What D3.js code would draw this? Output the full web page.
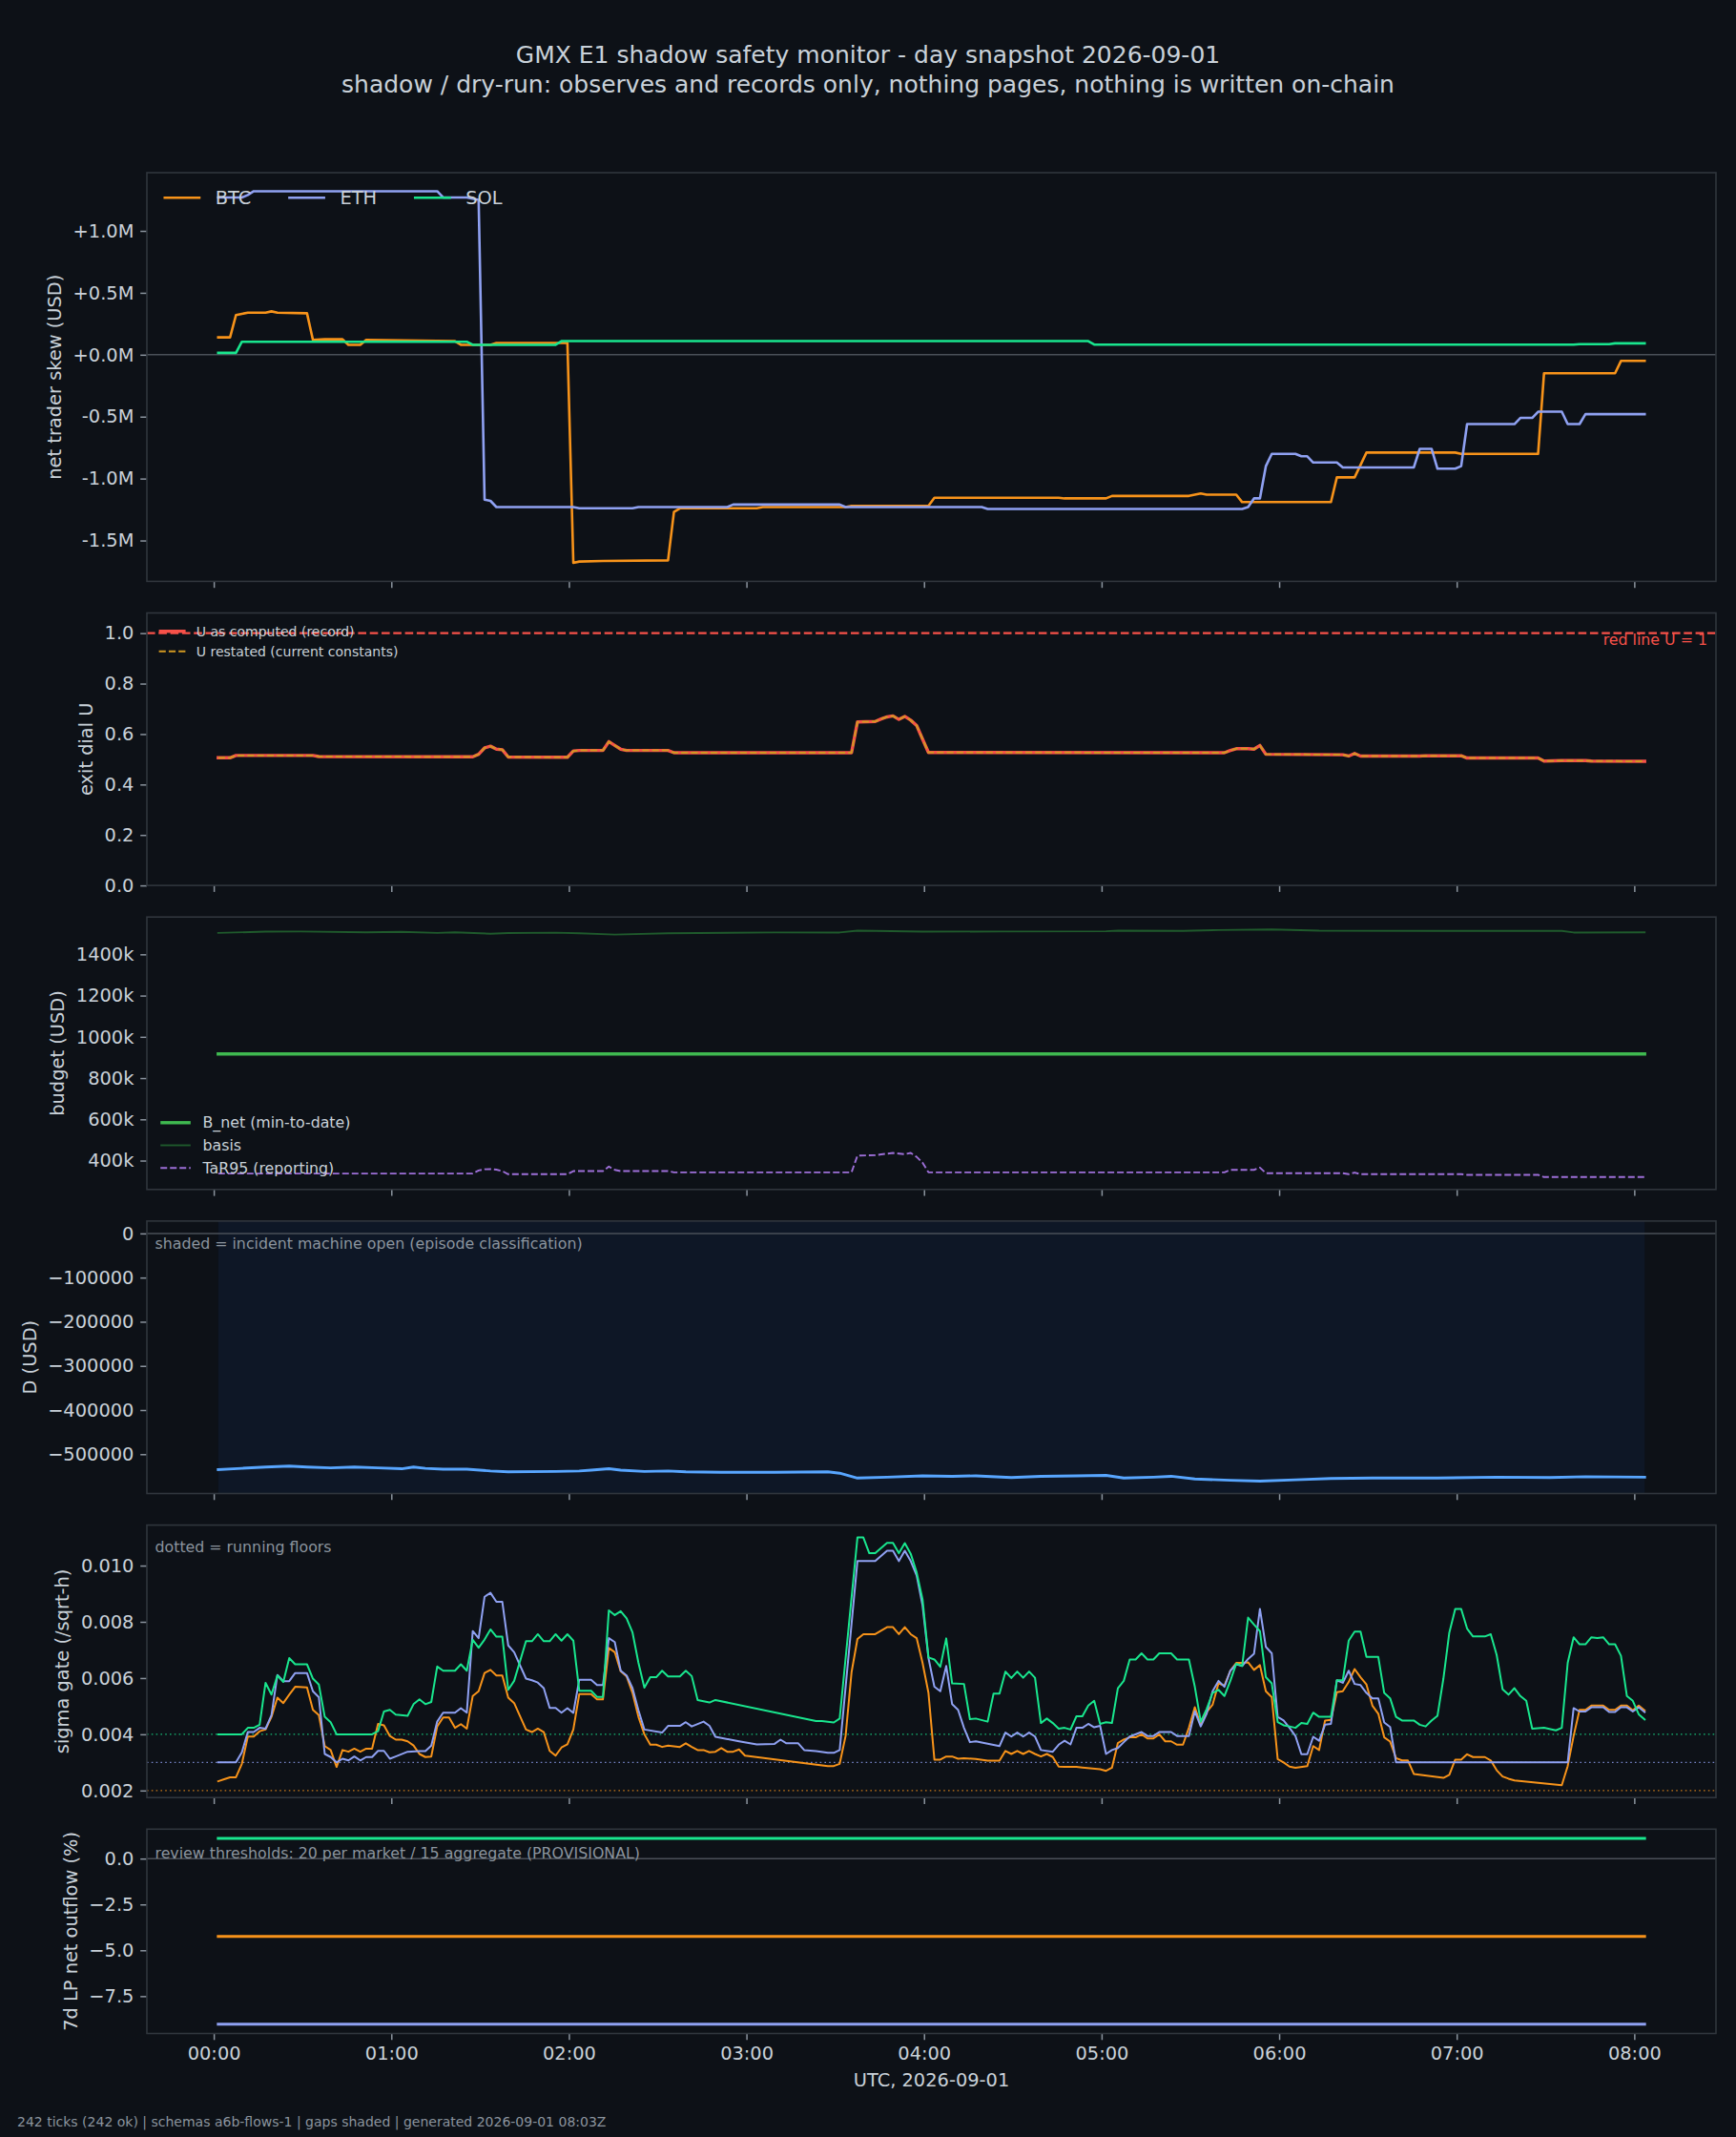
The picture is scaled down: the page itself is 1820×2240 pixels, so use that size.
<!DOCTYPE html>
<html>
<head>
<meta charset="utf-8">
<script src="https://cdn.jsdelivr.net/npm/d3@7"></script>
<style>
  body { margin: 0; background: #0d1117; }
  svg text { font-family: "DejaVu Sans", sans-serif; }
</style>
</head>
<body>
<svg id="chart" width="1820" height="2240"></svg>
<script>
// ---- tick clock: 242 ticks, 2 min apart, first one at 00:01:30 UTC ----
const T0 = Date.UTC(2026, 8, 1, 0, 1, 30);
const STEP_MS = 2 * 60 * 1000;
const N_TICKS = 242;
const tickTime = i => new Date(T0 + i * STEP_MS);

const markets = ["BTC", "ETH", "SOL"];

// net trader skew, USD millions
const skewBTC = [[0,0.14],[2,0.14],[3,0.32],[4,0.33],[5,0.34],[8,0.34],[9,0.35],[10,0.34],[15,0.335],[16,0.12],[18,0.125],[21,0.125],[22,0.08],[24,0.08],[25,0.12],[31,0.115],[40,0.11],[41,0.08],[46,0.08],[47,0.095],[59,0.095],[60,-1.68],[61,-1.67],[65,-1.665],[76,-1.66],[77,-1.27],[78,-1.24],[91,-1.24],[92,-1.23],[106,-1.23],[107,-1.22],[120,-1.22],[121,-1.155],[142,-1.155],[143,-1.16],[150,-1.16],[151,-1.14],[164,-1.14],[165,-1.13],[166,-1.12],[167,-1.13],[172,-1.13],[173,-1.19],[188,-1.19],[189,-0.99],[192,-0.99],[194,-0.79],[209,-0.79],[210,-0.80],[223,-0.80],[224,-0.15],[236,-0.15],[237,-0.05],[241,-0.05]];
const skewETH = [[0,1.27],[4,1.27],[5,1.29],[6,1.32],[37,1.32],[38,1.27],[42,1.27],[43,1.26],[44,1.25],[45,-1.17],[46,-1.18],[47,-1.23],[60,-1.23],[61,-1.24],[70,-1.24],[71,-1.23],[86,-1.23],[87,-1.21],[105,-1.21],[106,-1.23],[129,-1.23],[130,-1.245],[173,-1.245],[174,-1.23],[175,-1.16],[176,-1.16],[177,-0.9],[178,-0.8],[182,-0.8],[183,-0.82],[184,-0.82],[185,-0.87],[189,-0.87],[190,-0.91],[202,-0.91],[203,-0.76],[205,-0.76],[206,-0.92],[209,-0.92],[210,-0.9],[211,-0.56],[219,-0.56],[220,-0.51],[222,-0.51],[223,-0.46],[227,-0.46],[228,-0.56],[230,-0.56],[231,-0.48],[241,-0.48]];
const skewSOL = [[0,0.015],[3,0.015],[4,0.105],[42,0.105],[43,0.08],[57,0.08],[58,0.11],[147,0.11],[148,0.082],[229,0.082],[230,0.085],[235,0.085],[236,0.092],[241,0.092]];

// exit dial U (record and restated overlap on this day)
const uComputed = [[0,0.506],[2,0.506],[3,0.515],[16,0.515],[17,0.511],[43,0.510],[44,0.52],[45,0.545],[46,0.552],[47,0.54],[48,0.538],[49,0.509],[59,0.508],[60,0.533],[61,0.535],[65,0.535],[66,0.57],[67,0.555],[68,0.54],[69,0.535],[76,0.535],[77,0.526],[107,0.526],[108,0.648],[111,0.65],[112,0.66],[113,0.668],[114,0.672],[115,0.658],[116,0.67],[117,0.655],[118,0.634],[119,0.58],[120,0.527],[170,0.526],[171,0.535],[172,0.542],[174,0.542],[175,0.54],[176,0.555],[177,0.52],[190,0.518],[191,0.513],[192,0.523],[193,0.513],[203,0.513],[204,0.514],[210,0.514],[211,0.505],[223,0.505],[224,0.493],[227,0.495],[231,0.495],[232,0.493],[241,0.492]];
const uRestated = uComputed;
const U_REDLINE = 1;

// budget, USD thousands
const bNetK = [[0,917],[241,917]];
const basisK = [[0,1504],[8,1510],[14,1511],[25,1507],[31,1509],[37,1504],[40,1507],[46,1500],[49,1503],[57,1505],[61,1502],[67,1496],[76,1502],[94,1506],[105,1506],[108,1515],[111,1514],[119,1510],[132,1511],[150,1512],[152,1515],[163,1514],[169,1518],[178,1521],[186,1515],[206,1514],[227,1514],[229,1506],[241,1507]];
const tar95K = [[0,337],[43,337],[44,352],[45,358],[46,359],[47,356],[48,349],[49,334],[59,334],[60,349],[65,349],[66,371],[67,355],[68,349],[76,349],[77,343],[107,343],[108,424],[111,426],[112,430],[114,437],[116,431],[117,437],[118,418],[119,390],[120,343],[170,343],[171,355],[175,355],[176,366],[177,339],[190,339],[191,334],[192,342],[193,334],[210,334],[211,331],[223,331],[224,320],[241,320]];

// D, USD
const dUSD = [[0,-535000],[4,-532000],[8,-529000],[12,-527000],[15,-529000],[19,-531000],[23,-529000],[27,-531000],[31,-533000],[33,-529000],[35,-532000],[38,-534000],[42,-534000],[46,-538000],[49,-540000],[57,-539000],[61,-538000],[63,-536000],[66,-533000],[68,-536000],[72,-539000],[76,-538000],[79,-540000],[85,-541000],[94,-541000],[103,-540000],[105,-543000],[108,-554000],[113,-552000],[119,-549000],[124,-550000],[128,-549000],[134,-553000],[139,-550000],[145,-549000],[150,-548000],[153,-554000],[158,-552000],[161,-550000],[165,-556000],[171,-559000],[176,-561000],[182,-558000],[188,-555000],[195,-554000],[206,-554000],[216,-552000],[225,-553000],[231,-551000],[241,-552000]];
const incidentOpen = [0, 241]; // tick range the incident machine was open

// sigma gate, in units of 1e-3 /sqrt-h
const sigmaBTC = [[0,2.33],[1,2.40],[2,2.47],[3,2.47],[4,2.95],[5,3.92],[6,3.92],[7,4.11],[8,4.17],[9,4.62],[10,5.3],[11,5.11],[12,5.41],[13,5.69],[15,5.67],[16,4.87],[17,4.68],[18,3.58],[19,3.44],[20,2.84],[21,3.44],[22,3.38],[23,3.49],[24,3.38],[25,3.49],[26,3.49],[27,4.37],[28,4.32],[29,3.94],[30,3.81],[31,3.81],[32,3.75],[33,3.6],[34,3.3],[35,3.19],[36,3.21],[37,4.28],[38,4.6],[39,4.6],[40,4.23],[41,4.36],[42,4.2],[43,5.36],[44,5.53],[45,6.18],[46,6.29],[47,6.09],[48,6.09],[49,5.3],[50,5.11],[52,4.17],[53,4.08],[54,4.2],[55,4.08],[56,3.41],[57,3.24],[58,3.53],[59,3.64],[60,4.17],[61,5.43],[63,5.43],[64,5.24],[65,5.24],[66,7.07],[67,6.92],[68,6.24],[69,6.06],[70,5.47],[71,4.62],[72,4.0],[73,3.63],[74,3.63],[75,3.55],[76,3.6],[78,3.55],[79,3.68],[80,3.55],[81,3.44],[82,3.44],[83,3.36],[84,3.38],[85,3.51],[86,3.38],[87,3.38],[88,3.46],[89,3.24],[103,2.87],[104,2.87],[105,2.95],[106,3.94],[107,6.2],[108,7.39],[109,7.56],[111,7.56],[113,7.81],[114,7.81],[115,7.56],[116,7.81],[117,7.56],[118,7.42],[119,6.54],[120,5.47],[121,3.1],[122,3.1],[123,3.21],[124,3.21],[125,3.13],[126,3.15],[128,3.12],[130,3.06],[132,3.06],[133,3.41],[134,3.3],[135,3.41],[136,3.3],[137,3.41],[138,3.3],[139,3.21],[140,3.3],[141,3.19],[142,2.85],[143,2.84],[145,2.84],[146,2.82],[149,2.76],[150,2.7],[151,2.81],[152,3.69],[153,3.81],[154,3.89],[155,3.89],[156,4.0],[157,3.85],[158,3.85],[159,4.0],[160,3.75],[161,3.75],[162,3.63],[163,3.63],[164,4.23],[165,4.96],[166,4.34],[167,4.79],[168,5.05],[169,5.81],[170,5.73],[171,6.26],[172,6.54],[173,6.54],[174,6.56],[175,6.29],[176,6.46],[177,5.53],[178,5.32],[179,3.12],[180,3.0],[181,2.85],[182,2.81],[184,2.87],[185,3.58],[186,3.44],[187,4.49],[188,4.51],[189,5.5],[190,5.53],[191,5.86],[192,6.32],[193,6.03],[194,5.77],[195,5.02],[196,4.73],[197,3.89],[198,3.74],[199,3.15],[200,3.07],[201,3.07],[202,2.59],[207,2.45],[208,2.56],[209,3.1],[210,3.1],[211,3.29],[212,3.19],[214,3.19],[215,3.07],[216,2.72],[217,2.5],[218,2.42],[219,2.36],[227,2.19],[228,2.87],[229,3.94],[230,4.87],[231,4.87],[232,5.02],[234,5.02],[235,4.87],[236,4.87],[237,5.02],[238,5.02],[239,4.85],[240,5.02],[241,4.85]];
const sigmaETH = [[0,3.0],[3,3.0],[4,3.36],[5,4.08],[6,4.08],[7,4.23],[8,4.2],[9,4.68],[10,6.11],[11,5.89],[12,5.89],[13,6.18],[15,6.18],[16,5.53],[17,5.32],[18,3.3],[19,3.19],[20,3.0],[21,3.13],[22,3.07],[23,3.21],[24,3.07],[25,3.19],[26,3.19],[27,3.41],[28,3.41],[29,3.13],[30,3.21],[32,3.38],[34,3.40],[35,3.40],[36,3.6],[37,4.45],[38,4.77],[40,4.77],[41,4.93],[42,4.77],[43,7.67],[44,7.42],[45,8.89],[46,9.03],[47,8.71],[48,8.71],[49,7.16],[50,6.92],[52,5.98],[53,5.92],[54,5.84],[55,5.64],[56,4.94],[57,4.94],[58,4.77],[59,4.93],[60,4.76],[61,5.94],[63,5.94],[64,5.75],[65,5.75],[66,7.42],[67,7.28],[68,6.26],[69,6.09],[70,5.64],[71,4.85],[72,4.17],[75,4.06],[76,4.3],[78,4.3],[79,4.43],[80,4.28],[82,4.45],[83,4.3],[84,3.91],[88,3.75],[91,3.64],[94,3.66],[95,3.81],[96,3.68],[98,3.68],[99,3.44],[101,3.4],[103,3.34],[104,3.34],[105,3.44],[108,10.16],[111,10.16],[113,10.53],[114,10.53],[115,10.16],[116,10.53],[117,10.16],[118,9.65],[119,8.58],[120,6.71],[121,5.69],[122,5.53],[123,6.43],[124,5.07],[125,4.87],[126,4.23],[127,3.72],[128,3.75],[132,3.58],[133,4.06],[134,3.92],[135,4.06],[136,3.92],[137,4.06],[138,3.92],[139,3.44],[141,3.38],[142,3.63],[143,3.77],[144,3.64],[145,4.23],[146,4.23],[147,4.37],[148,4.25],[149,4.3],[150,3.3],[151,3.44],[152,3.51],[153,3.72],[154,3.92],[156,4.08],[157,3.94],[158,3.94],[159,4.08],[161,4.08],[162,3.94],[164,3.94],[165,4.82],[166,4.28],[167,4.73],[168,5.53],[169,5.9],[170,5.69],[171,6.26],[172,6.49],[173,6.43],[174,6.68],[175,6.86],[176,8.46],[177,7.11],[178,6.88],[179,4.62],[180,4.49],[181,4.23],[182,3.94],[183,3.29],[184,3.29],[185,3.91],[186,3.77],[187,4.34],[188,4.37],[189,5.92],[190,5.83],[191,6.26],[192,5.79],[193,5.75],[194,5.47],[195,5.28],[196,5.28],[197,4.42],[198,4.26],[199,3.0],[228,3.0],[229,4.93],[230,4.81],[231,4.81],[232,4.96],[234,4.96],[235,4.79],[236,4.79],[237,4.96],[238,4.96],[239,4.81],[240,4.96],[241,4.79]];
const sigmaSOL = [[0,4.0],[4,4.0],[5,4.23],[6,4.23],[7,4.34],[8,5.83],[9,5.41],[10,6.09],[11,5.86],[12,6.71],[13,6.49],[15,6.49],[16,5.98],[17,5.77],[18,4.62],[19,4.43],[20,4.0],[26,4.0],[27,4.11],[28,4.81],[29,4.87],[30,4.70],[32,4.66],[33,5.07],[34,5.24],[35,5.07],[36,5.15],[37,6.41],[38,6.26],[40,6.26],[41,6.49],[42,6.26],[43,7.36],[44,7.08],[45,7.37],[46,7.73],[47,7.47],[48,7.47],[49,5.58],[50,5.90],[52,7.31],[53,7.31],[54,7.56],[55,7.31],[56,7.31],[57,7.56],[58,7.33],[59,7.56],[60,7.33],[61,5.55],[63,5.55],[64,5.33],[65,5.33],[66,8.41],[67,8.24],[68,8.38],[69,8.12],[70,7.62],[71,6.54],[72,5.66],[73,6.03],[74,6.03],[75,6.26],[76,6.06],[78,6.06],[79,6.26],[80,6.07],[81,5.22],[83,5.13],[84,5.22],[101,4.47],[102,4.47],[104,4.42],[105,4.56],[108,11.0],[109,11.0],[110,10.44],[111,10.44],[113,10.81],[114,10.81],[115,10.44],[116,10.8],[117,10.42],[118,9.76],[119,8.8],[120,6.73],[121,6.66],[122,6.4],[123,7.41],[124,5.81],[126,5.79],[127,4.54],[128,4.56],[130,4.45],[131,5.45],[132,5.45],[133,6.23],[134,6.0],[135,6.23],[136,6.01],[137,6.23],[138,6.01],[139,4.40],[140,4.56],[141,4.40],[142,4.2],[143,4.23],[144,4.17],[145,4.64],[146,4.64],[147,5.02],[148,5.19],[149,4.37],[150,4.43],[151,4.4],[152,5.64],[153,5.90],[154,6.66],[155,6.66],[156,6.88],[157,6.66],[158,6.66],[159,6.88],[161,6.88],[162,6.66],[164,6.66],[165,5.69],[166,4.45],[167,4.9],[168,5.47],[169,5.58],[170,5.36],[171,5.90],[172,6.51],[173,6.43],[174,8.15],[175,7.9],[176,7.67],[177,6.03],[178,5.81],[179,4.43],[180,4.32],[181,4.28],[182,4.23],[183,4.4],[184,4.37],[185,4.77],[186,4.62],[188,4.62],[189,5.92],[190,5.92],[191,7.33],[192,7.65],[193,7.65],[194,6.75],[196,6.75],[197,5.47],[198,5.28],[199,4.62],[200,4.49],[202,4.49],[203,4.34],[204,4.28],[205,4.49],[206,4.66],[207,5.98],[208,7.62],[209,8.46],[210,8.46],[211,7.76],[212,7.48],[214,7.48],[215,7.56],[216,6.82],[217,5.6],[218,5.41],[219,5.64],[220,5.36],[221,5.19],[222,4.2],[224,4.23],[226,4.14],[227,4.23],[228,6.54],[229,7.45],[230,7.2],[231,7.2],[232,7.45],[233,7.42],[234,7.45],[235,7.2],[236,7.2],[237,6.79],[238,5.36],[239,5.19],[240,4.71],[241,4.53]];
const sigmaFloors = [0.002, 0.003, 0.004]; // BTC, ETH, SOL running floors

// 7d LP net outflow, % (flat over the day)
const lpOutflowPct = [-4.24, -9.03, 1.1]; // BTC, ETH, SOL

// y tick values per panel
const skewTicks = [-1.5, -1.0, -0.5, 0, 0.5, 1.0];
const uTicks = [0, 0.2, 0.4, 0.6, 0.8, 1.0];
const budgetTicks = [400, 600, 800, 1000, 1200, 1400];
const dTicks = [0, -100000, -200000, -300000, -400000, -500000];
const sigmaTicks = [0.002, 0.004, 0.006, 0.008, 0.010];
const lpTicks = [0, -2.5, -5.0, -7.5];

// ---- styling ----
const BG = "#0d1117", SPINE = "#30363d", TICK = "#8b949e", TXT = "#c9d1d9", MUTED = "#8b949e", ZERO = "#4a5058";
const marketColor = { BTC: "#f7931a", ETH: "#8fa1f2", SOL: "#19e68e" };
const FS = 19.4, FS_SMALL = 15.8, FS_TINY = 14;

const svg = d3.select("#chart");
svg.append("rect").attr("width", 1820).attr("height", 2240).attr("fill", BG);

const X0 = 154, X1 = 1799;
const unit = 285.6, gap = 33.1;
const ratios = [1.5, 1, 1, 1, 1, 0.75];
let cursor = 181;
const panels = ratios.map(r => {
  const p = { top: cursor, h: r * unit };
  cursor += r * unit + gap;
  return p;
});

function padExtent(vals, frac = 0.05) {
  const [a, b] = d3.extent(vals);
  const p = (b - a) * frac;
  return [a - p, b + p];
}

const tFirst = tickTime(0), tLast = tickTime(N_TICKS - 1);
const xPad = (tLast - tFirst) * 0.05;
const x = d3.scaleTime()
  .domain([new Date(+tFirst - xPad), new Date(+tLast + xPad)])
  .range([X0, X1]);

function makePanel(idx, yDomain, yTicks, yFmt, label, showX) {
  const p = panels[idx];
  const y = d3.scaleLinear().domain(yDomain).range([p.top + p.h, p.top]);
  const g = svg.append("g");

  svg.append("clipPath").attr("id", "clip" + idx)
    .append("rect").attr("x", X0).attr("y", p.top).attr("width", X1 - X0).attr("height", p.h);
  const plot = g.append("g").attr("clip-path", `url(#clip${idx})`);

  const ya = g.append("g").attr("transform", `translate(${X0},0)`)
    .call(d3.axisLeft(y).tickValues(yTicks).tickFormat(yFmt).tickSize(6.8).tickPadding(6.8));
  const xa = g.append("g").attr("transform", `translate(0,${p.top + p.h})`)
    .call(d3.axisBottom(x).ticks(d3.utcHour.every(1))
      .tickFormat(showX ? d3.utcFormat("%H:%M") : () => "")
      .tickSize(6.8).tickPadding(6.8));
  [ya, xa].forEach(a => {
    a.select(".domain").remove();
    a.selectAll("line").attr("stroke", TICK).attr("stroke-width", 1.5);
    a.selectAll("text").attr("fill", TXT).attr("font-size", FS)
      .attr("font-family", "DejaVu Sans");
  });

  g.append("rect").attr("x", X0).attr("y", p.top).attr("width", X1 - X0).attr("height", p.h)
    .attr("fill", "none").attr("stroke", SPINE).attr("stroke-width", 1.6);

  const minX = X0 + d3.min(ya.selectAll("text").nodes(), n => n.getBBox().x);
  g.append("text")
    .attr("transform", `translate(${minX - 12.4},${p.top + p.h / 2}) rotate(-90)`)
    .attr("text-anchor", "middle").attr("fill", TXT).attr("font-size", FS)
    .text(label);

  return { y, plot, g, p };
}

const line = y => d3.line().x(d => x(tickTime(d[0]))).y(d => y(d[1]));

function drawLine(panel, pts, color, width, dash) {
  panel.plot.append("path").datum(pts)
    .attr("fill", "none").attr("stroke", color).attr("stroke-width", width)
    .attr("stroke-linejoin", "round").attr("stroke-linecap", dash ? "butt" : "square")
    .attr("stroke-dasharray", dash || null)
    .attr("d", line(panel.y));
}

function hLine(panel, v, color, width, dash, opacity) {
  panel.plot.append("line")
    .attr("x1", X0).attr("x2", X1).attr("y1", panel.y(v)).attr("y2", panel.y(v))
    .attr("stroke", color).attr("stroke-width", width)
    .attr("stroke-dasharray", dash || null).attr("opacity", opacity || 1);
}

function note(panel, text, dy) {
  panel.g.append("text").attr("x", X0 + 8.5).attr("y", panel.p.top + dy)
    .attr("fill", MUTED).attr("font-size", FS_SMALL).text(text);
}

// vertical legend; entries {label, color, width, dash}
function legendRows(g, x0, y0, rowGap, fs, entries) {
  entries.forEach((e, k) => {
    const yc = y0 + k * rowGap;
    g.append("line").attr("x1", x0).attr("x2", x0 + 2 * fs).attr("y1", yc).attr("y2", yc)
      .attr("stroke", e.color).attr("stroke-width", e.width).attr("stroke-dasharray", e.dash || null);
    g.append("text").attr("x", x0 + 2.8 * fs).attr("y", yc).attr("dy", "0.35em")
      .attr("fill", TXT).attr("font-size", fs).text(e.label);
  });
}

// ---- title / footer ----
svg.append("text").attr("x", 910).attr("y", 66).attr("text-anchor", "middle")
  .attr("fill", TXT).attr("font-size", 25)
  .text("GMX E1 shadow safety monitor - day snapshot 2026-09-01");
svg.append("text").attr("x", 910).attr("y", 97).attr("text-anchor", "middle")
  .attr("fill", TXT).attr("font-size", 25)
  .text("shadow / dry-run: observes and records only, nothing pages, nothing is written on-chain");

// ---- panel 1: net trader skew ----
const skewSeries = [skewBTC, skewETH, skewSOL];
const p1 = makePanel(0,
  padExtent(skewSeries.flat().map(d => d[1])), skewTicks,
  v => (v >= 0 ? "+" : "-") + Math.abs(v).toFixed(1) + "M",
  "net trader skew (USD)", false);
hLine(p1, 0, ZERO, 1.5);
skewSeries.forEach((s, k) => drawLine(p1, s, marketColor[markets[k]], 2.6));
{
  let lx = X0 + 0.9 * FS;
  const ly = 207.3;
  markets.forEach(m => {
    p1.g.append("line").attr("x1", lx).attr("x2", lx + 2 * FS).attr("y1", ly).attr("y2", ly)
      .attr("stroke", marketColor[m]).attr("stroke-width", 2.6);
    const t = p1.g.append("text").attr("x", lx + 2.8 * FS).attr("y", ly).attr("dy", "0.35em")
      .attr("fill", TXT).attr("font-size", FS).text(m);
    lx += 2.8 * FS + t.node().getComputedTextLength() + 2 * FS;
  });
}

// ---- panel 2: exit dial U ----
const p2 = makePanel(1, [0, 1.08], uTicks, d3.format(".1f"), "exit dial U", false);
hLine(p2, U_REDLINE, "#f85149", 2.3, "8.6,3.7");
drawLine(p2, uComputed, "#f85149", 3.4);
drawLine(p2, uRestated, "#d29922", 2, "7.2,3.1");
p2.g.append("text").attr("x", X1 - 9).attr("y", p2.y(U_REDLINE) + 12.5)
  .attr("text-anchor", "end").attr("fill", "#f85149").attr("font-size", FS_SMALL)
  .text("red line U = 1");
legendRows(p2.g, X0 + 0.9 * FS_TINY, p2.p.top + 19.2, 21, FS_TINY, [
  { label: "U as computed (record)", color: "#f85149", width: 3.4 },
  { label: "U restated (current constants)", color: "#d29922", width: 2, dash: "7.2,3.1" }
]);

// ---- panel 3: budget ----
const p3 = makePanel(2,
  padExtent([...bNetK, ...basisK, ...tar95K].map(d => d[1])), budgetTicks,
  v => v + "k", "budget (USD)", false);
drawLine(p3, basisK, "#1f5a2c", 1.9);
drawLine(p3, bNetK, "#3fb950", 3.4);
drawLine(p3, tar95K, "#9d6fd8", 1.9, "7,3");
legendRows(p3.g, X0 + 0.9 * FS_SMALL, p3.p.top + p3.p.h - 22.6 - 2 * 23.7, 23.7, FS_SMALL, [
  { label: "B_net (min-to-date)", color: "#3fb950", width: 3.4 },
  { label: "basis", color: "#1f5a2c", width: 1.9 },
  { label: "TaR95 (reporting)", color: "#9d6fd8", width: 1.9, dash: "7,3" }
]);

// ---- panel 4: D ----
const p4 = makePanel(3,
  padExtent([0, ...dUSD.map(d => d[1])]), dTicks, d3.format("d"), "D (USD)", false);
p4.plot.append("rect")
  .attr("x", x(tickTime(incidentOpen[0]))).attr("y", p4.p.top)
  .attr("width", x(tickTime(incidentOpen[1])) - x(tickTime(incidentOpen[0])))
  .attr("height", p4.p.h)
  .attr("fill", "#1f6feb").attr("opacity", 0.07);
hLine(p4, 0, ZERO, 1.5);
drawLine(p4, dUSD, "#58a6ff", 2.9);
note(p4, "shaded = incident machine open (episode classification)", 28.6);

// ---- panel 5: sigma gate ----
const sigmaSeries = [sigmaBTC, sigmaETH, sigmaSOL].map(s => s.map(d => [d[0], d[1] / 1000]));
const p5 = makePanel(4,
  padExtent(sigmaSeries.flat().map(d => d[1])), sigmaTicks, d3.format(".3f"),
  "sigma gate (/sqrt-h)", false);
sigmaFloors.forEach((f, k) => hLine(p5, f, marketColor[markets[k]], 1.3, "1.6,3.2", 0.8));
sigmaSeries.forEach((s, k) => drawLine(p5, s, marketColor[markets[k]], 2));
note(p5, "dotted = running floors", 28);

// ---- panel 6: LP outflow ----
const p6 = makePanel(5,
  padExtent([0, ...lpOutflowPct]), lpTicks, d3.format(".1f"), "7d LP net outflow (%)", true);
hLine(p6, 0, ZERO, 1.5);
lpOutflowPct.forEach((v, k) => drawLine(p6, [[0, v], [N_TICKS - 1, v]], marketColor[markets[k]], 2.9));
note(p6, "review thresholds: 20 per market / 15 aggregate (PROVISIONAL)", 31);

svg.append("text").attr("x", (X0 + X1) / 2).attr("y", 2187).attr("text-anchor", "middle")
  .attr("fill", TXT).attr("font-size", FS).text("UTC, 2026-09-01");
svg.append("text").attr("x", 18).attr("y", 2229)
  .attr("fill", MUTED).attr("font-size", FS_TINY)
  .text("242 ticks (242 ok) | schemas a6b-flows-1 | gaps shaded | generated 2026-09-01 08:03Z");
</script>
</body>
</html>
